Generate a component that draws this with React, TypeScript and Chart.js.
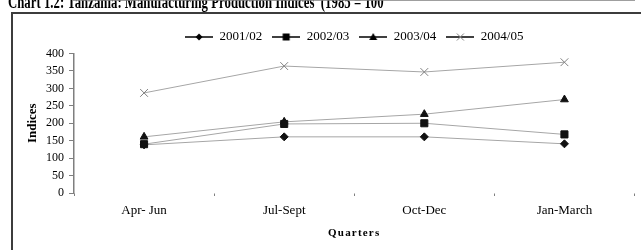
import React, { useEffect, useRef } from 'react';
import { Chart, registerables } from 'chart.js';

Chart.register(...registerables);

const chartTitle = 'Chart 1.2: Tanzania: Manufacturing Production Indices  (1985 = 100';
const categories = ['Apr- Jun', 'Jul-Sept', 'Oct-Dec', 'Jan-March'];
const seriesNames = ['2001/02', '2002/03', '2003/04', '2004/05'];
const values2001 = [138, 161, 161, 141];
const values2002 = [140, 198, 200, 168];
const values2003 = [161, 204, 226, 268];
const values2004 = [287, 364, 347, 375];
const yTickValues = [0, 50, 100, 150, 200, 250, 300, 350, 400];
const yAxisTitle = 'Indices';
const xAxisTitle = 'Quarters';

const SERIF = '"Liberation Serif", "Times New Roman", serif';
const LINE = '#a6a6a6';
const AXIS = '#7f7f7f';

const markerStyles = ['rectRot', 'rect', 'triangle', 'crossRot'];
const markerRadius = [4, 5, 4.5, 5.5];

function makeIcon(style: string): HTMLCanvasElement {
  const c = document.createElement('canvas');
  c.width = 28;
  c.height = 12;
  const g = c.getContext('2d')!;
  const cx = 14, cy = 6;
  g.strokeStyle = '#000';
  g.lineWidth = 1.5;
  g.beginPath();
  g.moveTo(0, cy);
  g.lineTo(28, cy);
  g.stroke();
  g.fillStyle = '#000';
  g.beginPath();
  if (style === 'rectRot') {
    g.moveTo(cx, cy - 3.5); g.lineTo(cx + 3.5, cy); g.lineTo(cx, cy + 3.5); g.lineTo(cx - 3.5, cy); g.closePath(); g.fill();
  } else if (style === 'rect') {
    g.rect(cx - 3.5, cy - 3.5, 7, 7); g.fill();
  } else if (style === 'triangle') {
    g.moveTo(cx, cy - 4); g.lineTo(cx + 4, cy + 3); g.lineTo(cx - 4, cy + 3); g.closePath(); g.fill();
  } else {
    g.strokeStyle = '#808080'; g.lineWidth = 1;
    g.moveTo(cx - 3.5, cy - 3.5); g.lineTo(cx + 3.5, cy + 3.5);
    g.moveTo(cx + 3.5, cy - 3.5); g.lineTo(cx - 3.5, cy + 3.5);
    g.stroke();
  }
  return c;
}

const framePlugin = {
  id: 'frameAndTitle',
  beforeDraw(chart: any) {
    const ctx = chart.ctx as CanvasRenderingContext2D;
    ctx.save();
    ctx.strokeStyle = '#3c3c3c';
    ctx.lineWidth = 2;
    ctx.strokeRect(12, 13, chart.width + 20, chart.height + 20);
    ctx.fillStyle = '#000';
    ctx.font = 'bold 12.8px ' + SERIF;
    ctx.textBaseline = 'alphabetic';
    ctx.textAlign = 'left';
    ctx.translate(8, 7.7);
    ctx.scale(1, 1.5);
    ctx.fillText(chartTitle, 0, 0);
    ctx.restore();
  },
  afterDatasetsDraw(chart: any) {
    (chart.ctx as any).letterSpacing = '1.2px';
  },
  afterDraw(chart: any) {
    (chart.ctx as any).letterSpacing = '0px';
  },
};

export default function App() {
  const ref = useRef<HTMLCanvasElement | null>(null);

  useEffect(() => {
    if (!ref.current) return;
    const allValues = [values2001, values2002, values2003, values2004];
    const icons = markerStyles.map(makeIcon);
    const chart = new Chart(ref.current, {
      type: 'line',
      data: {
        labels: categories,
        datasets: allValues.map((vals, i) => ({
          label: seriesNames[i],
          data: vals,
          borderColor: LINE,
          borderWidth: 1,
          pointStyle: markerStyles[i] as any,
          pointRadius: markerRadius[i],
          pointBackgroundColor: i === 3 ? '#808080' : '#111',
          pointBorderColor: i === 3 ? '#808080' : '#111',
          pointBorderWidth: 1,
          tension: 0,
          fill: false,
        })),
      },
      options: {
        responsive: false,
        animation: false,
        devicePixelRatio: 1,
        layout: { padding: { left: 0, right: 6, top: 10.5, bottom: 0 } },
        plugins: {
          tooltip: { enabled: false },
          legend: {
            display: true,
            position: 'top',
            fullSize: false,
            labels: {
              usePointStyle: true,
              pointStyleWidth: 28,
              padding: 10,
              color: '#000',
              font: { family: SERIF, size: 13 },
              generateLabels: (ch: any) =>
                Chart.defaults.plugins.legend.labels.generateLabels(ch).map((l: any, i: number) => ({
                  ...l,
                  pointStyle: icons[i],
                  fontColor: '#000',
                })),
            },
          },
          title: { display: false },
        },
        scales: {
          x: {
            type: 'category',
            offset: true,
            afterFit: (s: any) => { s.height = 57; },
            grid: {
              display: true,
              drawOnChartArea: false,
              drawTicks: true,
              tickLength: 3,
              offset: true,
              color: AXIS,
              lineWidth: 1,
              z: 1,
            },
            border: { display: true, color: AXIS, width: 1.5 },
            ticks: { color: '#000', font: { family: SERIF, size: 13 }, padding: 7, maxRotation: 0 },
            title: {
              display: true,
              text: xAxisTitle,
              color: '#000',
              font: { family: SERIF, size: 11, weight: 'bold' },
              padding: { top: 0, bottom: 10.4 },
            },
          },
          y: {
            type: 'linear',
            min: 0,
            max: 400,
            afterBuildTicks: (s: any) => { s.ticks = yTickValues.map((v) => ({ value: v })); },
            afterFit: (s: any) => { s.width = 74; s.paddingTop = 53.5; },
            grid: {
              display: true,
              drawOnChartArea: false,
              drawTicks: true,
              tickLength: 5,
              color: AXIS,
              lineWidth: 1,
            },
            border: { display: true, color: AXIS, width: 1.5 },
            ticks: { color: '#000', font: { family: SERIF, size: 12 }, padding: 5 },
            title: {
              display: true,
              text: yAxisTitle,
              color: '#000',
              font: { family: SERIF, size: 13, weight: 'bold' },
              padding: { top: 25, bottom: 0 },
            },
          },
        },
      },
      plugins: [framePlugin],
    } as any);
    return () => chart.destroy();
  }, []);

  return (
    <div style={{ position: 'absolute', left: 0, top: 0, width: 641, height: 250, background: '#fff' }}>
      <canvas ref={ref} width={641} height={250} style={{ display: 'block' }} />
    </div>
  );
}
